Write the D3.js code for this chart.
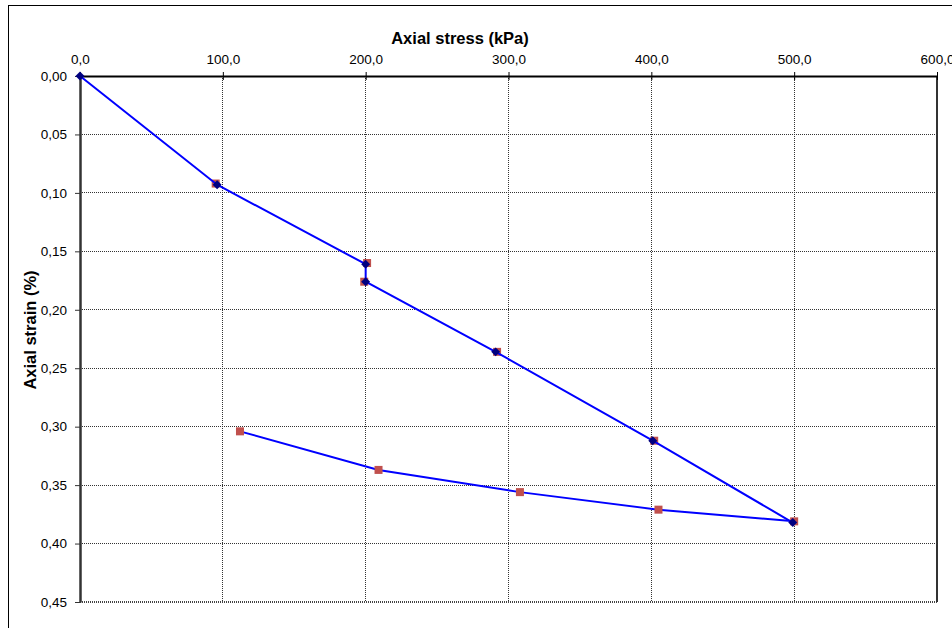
<!DOCTYPE html>
<html lang="en">
<head>
    <meta charset="UTF-8">
    <title>Axial stress vs axial strain</title>
    <script src="https://d3js.org/d3.v7.min.js"></script>
    <style>
        body {
            margin: 0;
            background-color: #ffffff;
            font-family: Arial, "Liberation Sans", sans-serif;
        }
        .tick text {
            font-size: 13.5px;
            font-family: Arial, "Liberation Sans", sans-serif;
            fill: #000;
        }
        .grid line {
            stroke: #333;
            stroke-width: 1;
            stroke-dasharray: 1,1;
            shape-rendering: crispEdges;
        }
    </style>
</head>
<body>
    <svg id="chart" width="952" height="628"></svg>

    <script>
        // x ticks / y ticks
        const xTicks = [0, 100, 200, 300, 400, 500, 600];
        const yTicks = [0, 0.05, 0.10, 0.15, 0.20, 0.25, 0.30, 0.35, 0.40, 0.45];

        // full test: loading then unloading (red squares)
        const allStress = [95, 201, 199, 292, 402, 500, 405, 308, 209, 112];
        const allStrain = [0.092, 0.160, 0.176, 0.236, 0.312, 0.381, 0.371, 0.356, 0.337, 0.304];
        const peakIndex = 5; // unloading starts here

        // loading branch (navy markers)
        const loadStress = [0, 96, 200, 200, 291, 401, 499];
        const loadStrain = [0, 0.093, 0.161, 0.176, 0.236, 0.312, 0.382];

        const svg = d3.select("#chart");
        const margin = { top: 76, left: 80 };
        const width = 857;
        const height = 526;

        // outer chart frame (partially off-screen)
        svg.append("rect")
            .attr("x", 8.5).attr("y", 5.5)
            .attr("width", 1000).attr("height", 700)
            .attr("fill", "none")
            .attr("stroke", "#000")
            .attr("stroke-width", 1);

        const g = svg.append("g").attr("transform", `translate(${margin.left},${margin.top})`);

        const x = d3.scaleLinear().domain([0, 600]).range([0, width]);
        const y = d3.scaleLinear().domain([0, 0.45]).range([0, height]);

        const fmtX = d => d3.format(".1f")(d).replace(".", ",");
        const fmtY = d => d3.format(".2f")(d).replace(".", ",");

        // gridlines
        g.append("g").attr("class", "grid")
            .selectAll("line")
            .data(xTicks.slice(1, -1))
            .enter().append("line")
            .attr("x1", d => x(d)).attr("x2", d => x(d))
            .attr("y1", 0).attr("y2", height);

        g.append("g").attr("class", "grid")
            .selectAll("line")
            .data(yTicks.slice(1, -1))
            .enter().append("line")
            .attr("x1", 0).attr("x2", width)
            .attr("y1", d => y(d)).attr("y2", d => y(d));

        // plot border right / bottom
        g.append("line")
            .attr("x1", 0).attr("x2", width)
            .attr("y1", height).attr("y2", height)
            .attr("stroke", "#444").attr("stroke-width", 2)
            .attr("stroke-dasharray", "1,1");
        g.append("line")
            .attr("x1", width).attr("x2", width)
            .attr("y1", 0).attr("y2", height)
            .attr("stroke", "#333").attr("stroke-width", 2);

        // axes
        const xAxis = d3.axisTop(x).tickValues(xTicks).tickFormat(fmtX).tickSizeOuter(0).tickSizeInner(4);
        const xG = g.append("g").call(xAxis);
        xG.select(".domain").attr("stroke", "#000").attr("stroke-width", 2);
        xG.selectAll(".tick line").attr("y2", -4).attr("y1", 4).attr("stroke", "#000");
        xG.selectAll(".tick text").attr("y", -12);

        const yAxis = d3.axisLeft(y).tickValues(yTicks).tickFormat(fmtY).tickSizeOuter(0).tickSizeInner(5);
        const yG = g.append("g").call(yAxis);
        yG.select(".domain").attr("stroke", "#333").attr("stroke-width", 2.5);
        yG.selectAll(".tick line").attr("stroke", "#333");
        yG.selectAll(".tick text").attr("x", -13);

        // axis titles
        svg.append("text")
            .attr("x", 460).attr("y", 44)
            .attr("text-anchor", "middle")
            .attr("font-size", "16.5px")
            .attr("font-weight", "bold")
            .text("Axial stress (kPa)");

        svg.append("text")
            .attr("transform", "translate(36,330) rotate(-90)")
            .attr("text-anchor", "middle")
            .attr("font-size", "16.5px")
            .attr("font-weight", "bold")
            .text("Axial strain (%)");

        const line = d3.line().x(d => x(d[0])).y(d => y(d[1]));
        const allPts = allStress.map((s, i) => [s, allStrain[i]]);
        const loadPts = loadStress.map((s, i) => [s, loadStrain[i]]);

        // full test series: line drawn for the unloading branch
        g.append("path").datum(allPts.slice(peakIndex))
            .attr("d", line)
            .attr("fill", "none")
            .attr("stroke", "#0000ff")
            .attr("stroke-width", 2);

        g.selectAll(".sq")
            .data(allPts)
            .enter().append("rect")
            .attr("class", "sq")
            .attr("x", d => x(d[0]) - 4)
            .attr("y", d => y(d[1]) - 4)
            .attr("width", 8).attr("height", 8)
            .attr("fill", "#c0504d");

        // loading series
        g.append("path").datum(loadPts)
            .attr("d", line)
            .attr("fill", "none")
            .attr("stroke", "#0000ff")
            .attr("stroke-width", 2);

        g.selectAll(".dm")
            .data(loadPts)
            .enter().append("path")
            .attr("class", "dm")
            .attr("transform", d => `translate(${x(d[0])},${y(d[1])}) rotate(45)`)
            .attr("d", d3.symbol().type(d3.symbolSquare).size(40))
            .attr("fill", "#000080");
    </script>
</body>
</html>
